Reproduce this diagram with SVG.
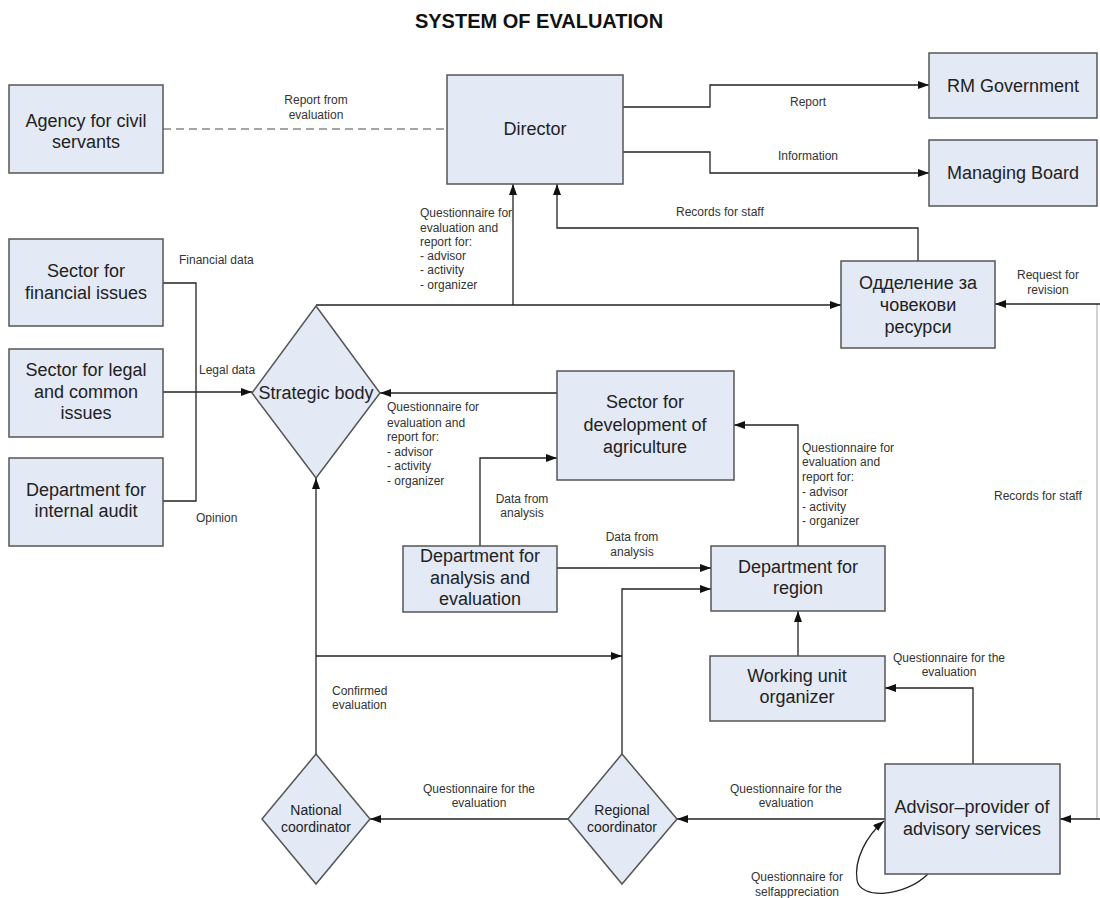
<svg xmlns="http://www.w3.org/2000/svg" width="1100" height="898" viewBox="0 0 1100 898">
<defs>
<marker id="arr" markerUnits="userSpaceOnUse" markerWidth="12" markerHeight="10" refX="11" refY="4" orient="auto">
<path d="M0,0 L11,4 L0,8 Z" fill="#111"/>
</marker>
<style>
.box{fill:#e3e9f5;stroke:#555;stroke-width:1.5}
.nt{font-family:"Liberation Sans",Arial,sans-serif;font-size:18px;fill:#222;text-anchor:middle}
.st{font-family:"Liberation Sans",Arial,sans-serif;font-size:14px;fill:#222;text-anchor:middle}
.lb{font-family:"Liberation Sans",Arial,sans-serif;font-size:12px;fill:#333}
.c{text-anchor:middle}
.ln{fill:none;stroke:#222;stroke-width:1.3}
.ar{marker-end:url(#arr)}
</style>
</defs>
<rect width="1100" height="898" fill="#fff"/>
<text x="539" y="28" font-family="Liberation Sans,Arial,sans-serif" font-size="20" font-weight="bold" text-anchor="middle" fill="#111">SYSTEM OF EVALUATION</text>

<g id="connectors">
<path class="ln" d="M163,129 H447" stroke="#888" stroke-dasharray="8,5" style="stroke:#888"/>
<path class="ln ar" d="M623,107 H710 V85 H929"/>
<path class="ln ar" d="M623,152 H710 V173 H929"/>
<path class="ln ar" d="M918,261 V228 H557 V184"/>
<path class="ln ar" d="M316,305 H841"/>
<path class="ln ar" d="M513,305 V184"/>
<path class="ln" d="M163,283 H196 V501 H163"/>
<path class="ln ar" d="M163,392 H252"/>
<path class="ln ar" d="M557,393 H380"/>
<path class="ln ar" d="M480,546 V458 H557"/>
<path class="ln ar" d="M557,568 H711"/>
<path class="ln ar" d="M622,754 V589 H711"/>
<path class="ln ar" d="M316,754 V478"/>
<path class="ln ar" d="M316,656 H622"/>
<path class="ln ar" d="M798,546 V425 H734"/>
<path class="ln ar" d="M798,656 V611"/>
<path class="ln ar" d="M973,764 V688 H885"/>
<path class="ln ar" d="M885,819 H677"/>
<path class="ln ar" d="M568,819 H370"/>
<path d="M1097,304 V819" fill="none" stroke="#bbb" stroke-width="1.3"/>
<path class="ln ar" d="M1100,304 H995"/>
<path class="ln ar" d="M1100,819 H1060"/>
<path class="ln ar" d="M928,874 C905,897 860,900 857,880 C854,860 866,836 884,821"/>
</g>

<g id="labels">
<text class="lb c" x="316" y="104">Report from</text>
<text class="lb c" x="316" y="119">evaluation</text>
<text class="lb c" x="808" y="106">Report</text>
<text class="lb c" x="808" y="160">Information</text>
<text class="lb" x="676" y="216">Records for staff</text>
<text class="lb" x="420" y="217">Questionnaire for</text>
<text class="lb" x="420" y="232">evaluation and</text>
<text class="lb" x="420" y="246">report for:</text>
<text class="lb" x="420" y="260">- advisor</text>
<text class="lb" x="420" y="274">- activity</text>
<text class="lb" x="420" y="289">- organizer</text>
<text class="lb c" x="1048" y="279">Request for</text>
<text class="lb c" x="1048" y="294">revision</text>
<text class="lb" x="179" y="264">Financial data</text>
<text class="lb" x="199" y="374">Legal data</text>
<text class="lb" x="196" y="522">Opinion</text>
<text class="lb" x="387" y="411">Questionnaire for</text>
<text class="lb" x="387" y="427">evaluation and</text>
<text class="lb" x="387" y="441">report for:</text>
<text class="lb" x="387" y="456">- advisor</text>
<text class="lb" x="387" y="470">- activity</text>
<text class="lb" x="387" y="485">- organizer</text>
<text class="lb c" x="522" y="503">Data from</text>
<text class="lb c" x="522" y="517">analysis</text>
<text class="lb c" x="632" y="541">Data from</text>
<text class="lb c" x="632" y="556">analysis</text>
<text class="lb" x="802" y="452">Questionnaire for</text>
<text class="lb" x="802" y="466">evaluation and</text>
<text class="lb" x="802" y="481">report for:</text>
<text class="lb" x="802" y="496">- advisor</text>
<text class="lb" x="802" y="511">- activity</text>
<text class="lb" x="802" y="525">- organizer</text>
<text class="lb" x="994" y="500">Records for staff</text>
<text class="lb c" x="949" y="662">Questionnaire for the</text>
<text class="lb c" x="949" y="676">evaluation</text>
<text class="lb" x="332" y="695">Confirmed</text>
<text class="lb" x="332" y="709">evaluation</text>
<text class="lb c" x="479" y="793">Questionnaire for the</text>
<text class="lb c" x="479" y="807">evaluation</text>
<text class="lb c" x="786" y="793">Questionnaire for the</text>
<text class="lb c" x="786" y="807">evaluation</text>
<text class="lb c" x="797" y="881">Questionnaire for</text>
<text class="lb c" x="797" y="896">selfappreciation</text>
</g>

<g id="agency"><rect class="box" x="9" y="85" width="154" height="88"/><text class="nt" x="86" y="127">Agency for civil</text><text class="nt" x="86" y="148">servants</text></g>
<g id="director"><rect class="box" x="447" y="75" width="176" height="109"/><text class="nt" x="535" y="135">Director</text></g>
<g id="rm-government"><rect class="box" x="929" y="53" width="168" height="65"/><text class="nt" x="1013" y="92">RM Government</text></g>
<g id="managing-board"><rect class="box" x="929" y="140" width="168" height="66"/><text class="nt" x="1013" y="179">Managing Board</text></g>
<g id="sector-financial"><rect class="box" x="9" y="239" width="154" height="87"/><text class="nt" x="86" y="277">Sector for</text><text class="nt" x="86" y="299">financial issues</text></g>
<g id="sector-legal"><rect class="box" x="9" y="349" width="154" height="88"/><text class="nt" x="86" y="376">Sector for legal</text><text class="nt" x="86" y="398">and common</text><text class="nt" x="86" y="419">issues</text></g>
<g id="dept-audit"><rect class="box" x="9" y="458" width="154" height="88"/><text class="nt" x="86" y="496">Department for</text><text class="nt" x="86" y="517">internal audit</text></g>
<g id="strategic-body"><polygon class="box" points="316,306 380,393 316,478 252,393"/><text class="nt" x="316" y="399">Strategic body</text></g>
<g id="hr-department"><rect class="box" x="841" y="261" width="154" height="87"/><text class="nt" x="918" y="289">Одделение за</text><text class="nt" x="918" y="311">човекови</text><text class="nt" x="918" y="333">ресурси</text></g>
<g id="sector-agriculture"><rect class="box" x="557" y="371" width="177" height="109"/><text class="nt" x="645" y="408">Sector for</text><text class="nt" x="645" y="431">development of</text><text class="nt" x="645" y="453">agriculture</text></g>
<g id="dept-analysis"><rect class="box" x="403" y="546" width="154" height="66"/><text class="nt" x="480" y="562">Department for</text><text class="nt" x="480" y="584">analysis and</text><text class="nt" x="480" y="605">evaluation</text></g>
<g id="dept-region"><rect class="box" x="711" y="546" width="174" height="65"/><text class="nt" x="798" y="573">Department for</text><text class="nt" x="798" y="594">region</text></g>
<g id="working-unit"><rect class="box" x="710" y="656" width="175" height="65"/><text class="nt" x="797" y="682">Working unit</text><text class="nt" x="797" y="703">organizer</text></g>
<g id="advisor"><rect class="box" x="885" y="764" width="175" height="110"/><text class="nt" x="972" y="813">Advisor–provider of</text><text class="nt" x="972" y="835">advisory services</text></g>
<g id="national-coordinator"><polygon class="box" points="316,754 370,819 316,884 262,819"/><text class="st" x="316" y="815">National</text><text class="st" x="316" y="832">coordinator</text></g>
<g id="regional-coordinator"><polygon class="box" points="622,754 677,819 622,884 568,819"/><text class="st" x="622" y="815">Regional</text><text class="st" x="622" y="832">coordinator</text></g>
</svg>
